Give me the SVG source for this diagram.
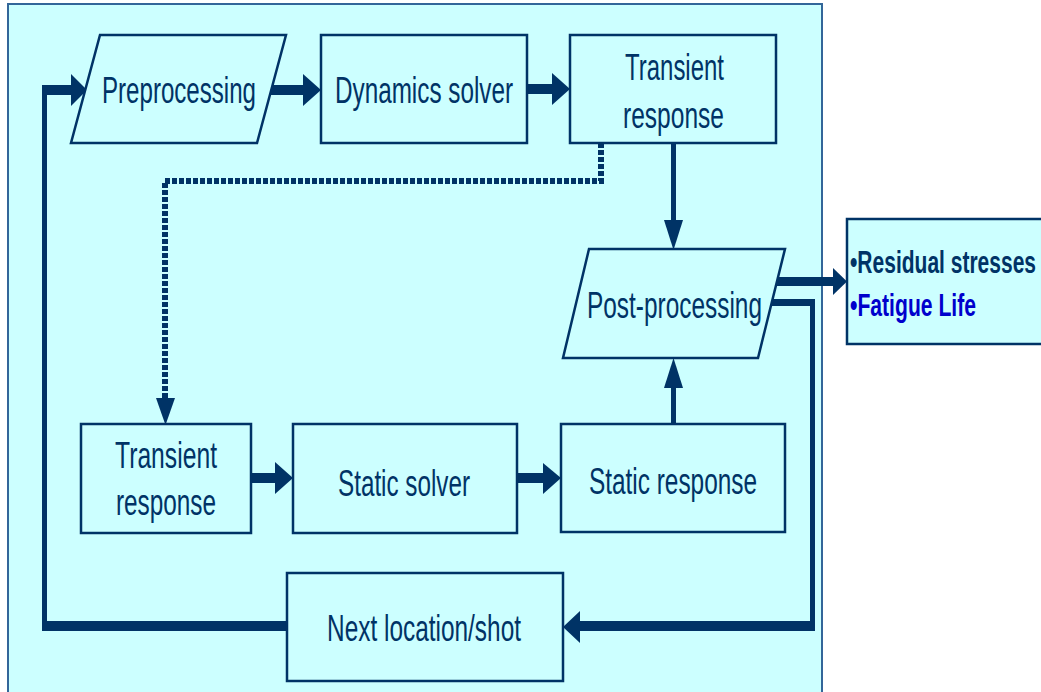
<svg xmlns="http://www.w3.org/2000/svg" width="1041" height="692" viewBox="0 0 1041 692">
<defs>
<style>
.box{fill:#CCFFFF;stroke:#003366;stroke-width:2.5}
.t{font-family:"Liberation Sans",Arial,sans-serif;font-size:37px;fill:#003366}
.b{font-family:"Liberation Sans",Arial,sans-serif;font-size:32px;font-weight:bold}
.c{fill:#003366;stroke:none}
.dash{fill:none;stroke:#003366;stroke-width:6;stroke-dasharray:5 2}
</style>
</defs>
<rect width="1041" height="692" fill="#FFFFFF"/>
<rect id="panel" x="8" y="4" width="814" height="720" fill="#CCFFFF" stroke="#336699" stroke-width="2"/>

<g id="connectors">
  <!-- left loop -->
  <rect class="c" x="42" y="621" width="245" height="10"/>
  <rect class="c" x="42" y="85" width="5" height="546"/>
  <rect class="c" x="42" y="85" width="31" height="10"/>
  <polygon class="c" points="71,74 87,90 71,106"/>
  <!-- preproc -> dynamics -->
  <rect class="c" x="270" y="85" width="35" height="10"/>
  <polygon class="c" points="303,74 321,90 303,106"/>
  <!-- dynamics -> transient -->
  <rect class="c" x="527" y="84" width="27" height="10"/>
  <polygon class="c" points="552,73 570,89 552,105"/>
  <!-- transient -> post -->
  <rect class="c" x="671" y="143" width="5" height="79"/>
  <polygon class="c" points="664,220 683,220 673.5,250"/>
  <!-- dotted transient -> transient -->
  <path class="dash" d="M601,143 V181 H165 V400"/>
  <polygon class="c" points="156,398 175,398 165.5,425"/>
  <!-- transient bottom -> static solver -->
  <rect class="c" x="251" y="473" width="26" height="10"/>
  <polygon class="c" points="275,462 293,478 275,494"/>
  <!-- static solver -> static response -->
  <rect class="c" x="517" y="473" width="28" height="10"/>
  <polygon class="c" points="543,463 561,478 543,494"/>
  <!-- static response -> post -->
  <rect class="c" x="671" y="385" width="5" height="39"/>
  <polygon class="c" points="664,388 683,388 673.5,358"/>
  <!-- post -> results -->
  <rect class="c" x="775" y="277" width="60" height="9"/>
  <polygon class="c" points="833,268 847,281.5 833,295"/>
  <!-- post -> next location loop -->
  <rect class="c" x="770" y="299" width="45" height="7"/>
  <rect class="c" x="810" y="299" width="5" height="332"/>
  <rect class="c" x="578" y="621" width="237" height="10"/>
  <polygon class="c" points="580,611 563,627 580,643"/>
</g>

<g id="preprocessing">
  <polygon class="box" points="100,35 286,35 257,143 71,143"/>
  <text class="t" x="102" y="103" textLength="154" lengthAdjust="spacingAndGlyphs">Preprocessing</text>
</g>
<g id="dynamics-solver">
  <rect class="box" x="321" y="35" width="206" height="108"/>
  <text class="t" x="335" y="103" textLength="178" lengthAdjust="spacingAndGlyphs">Dynamics solver</text>
</g>
<g id="transient-response-top">
  <rect class="box" x="570" y="35" width="206" height="108"/>
  <text class="t" x="625" y="80" textLength="99" lengthAdjust="spacingAndGlyphs">Transient</text>
  <text class="t" x="623" y="128" textLength="101" lengthAdjust="spacingAndGlyphs">response</text>
</g>
<g id="post-processing">
  <polygon class="box" points="589,249 785,249 758,358 563,358"/>
  <text class="t" x="587" y="318" textLength="175" lengthAdjust="spacingAndGlyphs">Post-processing</text>
</g>
<g id="results">
  <rect class="box" x="847" y="219" width="210" height="125"/>
  <text class="b" x="850" y="273" fill="#003366" textLength="186" lengthAdjust="spacingAndGlyphs">•Residual stresses</text>
  <text class="b" x="850" y="316" fill="#0000CC" textLength="126" lengthAdjust="spacingAndGlyphs">•Fatigue Life</text>
</g>
<g id="transient-response-bottom">
  <rect class="box" x="81" y="424" width="170" height="109"/>
  <text class="t" x="115" y="468" textLength="102" lengthAdjust="spacingAndGlyphs">Transient</text>
  <text class="t" x="116" y="515" textLength="100" lengthAdjust="spacingAndGlyphs">response</text>
</g>
<g id="static-solver">
  <rect class="box" x="293" y="424" width="224" height="109"/>
  <text class="t" x="338" y="496" textLength="132" lengthAdjust="spacingAndGlyphs">Static solver</text>
</g>
<g id="static-response">
  <rect class="box" x="561" y="424" width="224" height="108"/>
  <text class="t" x="589" y="494" textLength="168" lengthAdjust="spacingAndGlyphs">Static response</text>
</g>
<g id="next-location">
  <rect class="box" x="287" y="573" width="276" height="108"/>
  <text class="t" x="327" y="641" textLength="194" lengthAdjust="spacingAndGlyphs">Next location/shot</text>
</g>
</svg>
